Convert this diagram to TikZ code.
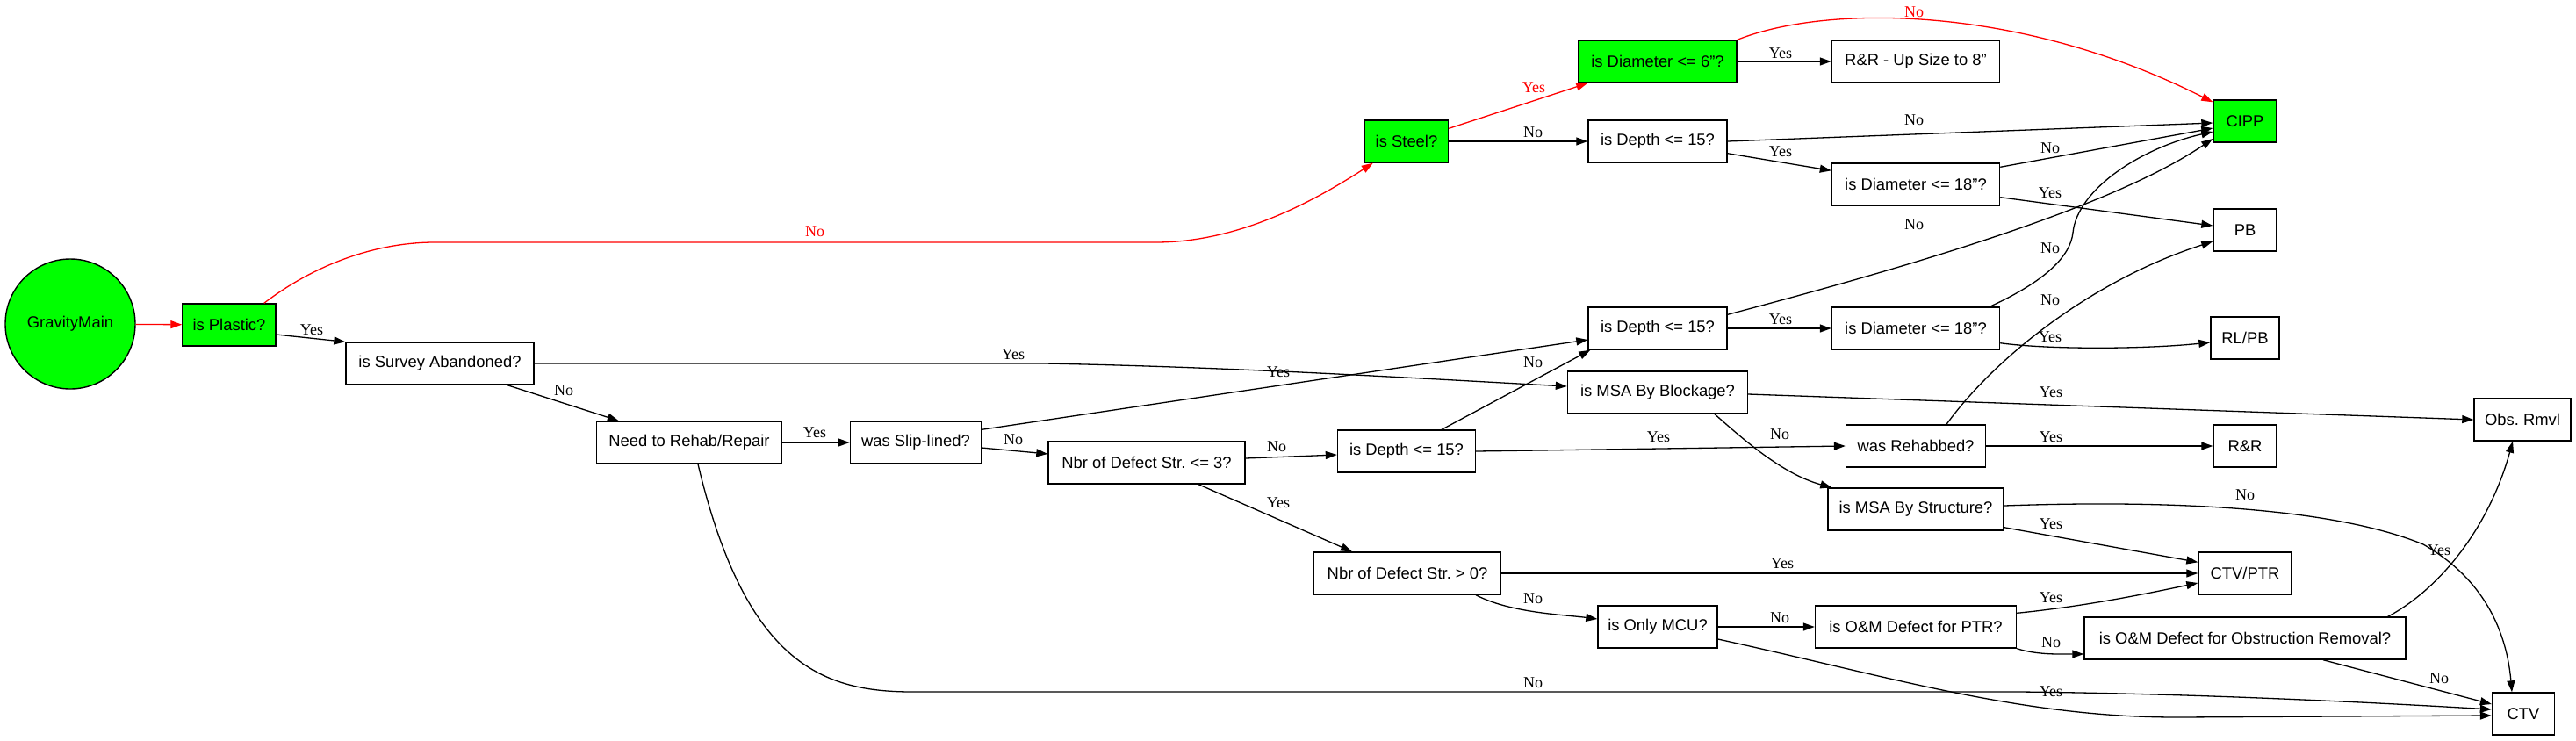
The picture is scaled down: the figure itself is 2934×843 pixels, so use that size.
\documentclass[tikz,border=0pt]{standalone}
\usepackage{fontspec}
\setmainfont{Liberation Serif}
\setsansfont{Liberation Sans}
\usepackage{tikz}
\usetikzlibrary{arrows.meta, positioning}
\definecolor{boxgreen}{RGB}{0,255,0}
\definecolor{flowred}{RGB}{255,0,0}
\frenchspacing

\begin{document}
\begin{tikzpicture}[
      x=0.5pt, y=-0.5pt,
      box/.style={rectangle, draw, line width=0.7pt, minimum height=24pt, inner sep=2pt, font=\sffamily\fontsize{9.2}{11}\selectfont},
      greenbox/.style={box, fill=boxgreen},
      arrow/.style={-{Triangle[length=6.5pt, width=4.5pt]}, line width=0.65pt},
      redarrow/.style={arrow, color=flowred},
      lbl/.style={font=\fontsize{9}{11}\selectfont, inner sep=0pt},
      redlbl/.style={lbl, text=flowred}
    ]
      \useasboundingbox (0,0) rectangle (2934,843);

      % Components
      \node[circle, draw, line width=0.7pt, fill=boxgreen, minimum size=74pt, font=\sffamily\fontsize{9.2}{11}\selectfont] (gm) at (80,369) {GravityMain};
      \node[greenbox, minimum width=53pt] (plastic) at (261,370) {is Plastic?};
      \node[box, minimum width=107pt] (survey) at (501,414) {is Survey Abandoned?};
      \node[box, minimum width=105.5pt] (rehab) at (785,504) {Need to Rehab/Repair};
      \node[box, minimum width=74.5pt] (slip) at (1043,504) {was Slip-lined?};
      \node[box, minimum width=112pt] (nbrthree) at (1306,527) {Nbr of Defect Str. <= 3?};
      \node[box, minimum width=78.5pt] (depthlow) at (1602,514) {is Depth <= 15?};
      \node[box, minimum width=106.5pt] (nbrzero) at (1603,653) {Nbr of Defect Str. > 0?};
      \node[box, minimum width=68pt] (mcu) at (1888,714) {is Only MCU?};
      \node[box, minimum width=114.5pt] (omptr) at (2182,714) {is O\&M Defect for PTR?};
      \node[box, minimum width=183pt] (omobs) at (2557,727) {is O\&M Defect for Obstruction Removal?};
      \node[box, minimum width=35.5pt] (ctv) at (2874,813) {CTV};
      \node[box, minimum width=53pt] (ctvptr) at (2557,653) {CTV/PTR};
      \node[box, minimum width=100pt] (structure) at (2182,580) {is MSA By Structure?};
      \node[box, minimum width=79.5pt] (rehabbed) at (2182,508) {was Rehabbed?};
      \node[box, minimum width=36pt] (rr) at (2557,508) {R\&R};
      \node[box, minimum width=102.5pt] (blockage) at (1888,447) {is MSA By Blockage?};
      \node[box, minimum width=55pt] (obs) at (2873,478) {Obs. Rmvl};

      % Steel branch
      \node[greenbox, minimum width=47.5pt] (steel) at (1602,161) {is Steel?};
      \node[greenbox, minimum width=90pt] (diasix) at (1888,70) {is Diameter <= 6"?};
      \node[box, minimum width=95.5pt] (upsize) at (2182,70) {R\&R - Up Size to 8"};
      \node[box, minimum width=79pt] (depthtop) at (1888,161) {is Depth <= 15?};
      \node[box, minimum width=95.5pt] (diatop) at (2182,210) {is Diameter <= 18"?};
      \node[greenbox, minimum width=36pt] (cipp) at (2557,138) {CIPP};
      \node[box, minimum width=36pt] (pb) at (2557,262) {PB};
      \node[box, minimum width=79pt] (depthmid) at (1888,374) {is Depth <= 15?};
      \node[box, minimum width=95.5pt] (diamid) at (2182,374) {is Diameter <= 18"?};
      \node[box, minimum width=39pt] (rlpb) at (2557,385) {RL/PB};

      % Arrows
      \draw[redarrow] (gm) -- (plastic);
      \draw[redarrow] ([xshift=-7pt]plastic.north east) .. controls (360,300) and (430,276) .. (495,276) -- (1316,276) .. controls (1400,276) and (1480,240) .. ([xshift=5pt]steel.south west) node[redlbl] at (928,264) {No};
      \draw[arrow] ([yshift=-5.5pt]plastic.east) -- (survey.north west) node[lbl] at (355,376) {Yes};

      \draw[redarrow] ([yshift=-5pt]steel.north east) -- ([xshift=5.5pt]diasix.south west) node[redlbl] at (1747,100) {Yes};
      \draw[arrow] (steel) -- (depthtop) node[lbl] at (1746,151) {No};
      \draw[arrow] (diasix) -- (upsize) node[lbl] at (2028,61) {Yes};
      \draw[redarrow] (diasix.north east) .. controls (2080,5) and (2300,5) .. ([yshift=-1.5pt]cipp.north west) node[redlbl] at (2180,14) {No};
      \draw[arrow] (depthtop.east) -- ([yshift=-1pt]cipp.west) node[lbl] at (2180,137) {No};
      \draw[arrow] ([yshift=5.5pt]depthtop.south east) -- ([yshift=-4.5pt]diatop.north west) node[lbl] at (2028,173) {Yes};
      \draw[arrow] ([yshift=-2.5pt]diatop.north east) -- ([yshift=-4pt]cipp.west) node[lbl] at (2335,169) {No};
      \draw[arrow] ([yshift=5pt]diatop.south east) -- ([yshift=2.5pt]pb.west) node[lbl] at (2335,220) {Yes};

      \draw[arrow] (survey.east) -- (1190,414) .. controls (1400,418) and (1600,430) .. ([yshift=3.5pt]blockage.west) node[lbl] at (1154,404) {Yes};
      \draw[arrow] ([xshift=38.5pt]survey.south) -- ([xshift=13pt]rehab.north west) node[lbl] at (642,445) {No};

      \draw[arrow] (rehab) -- (slip) node[lbl] at (928,493) {Yes};
      \draw[arrow] ([xshift=5pt]rehab.south) .. controls (850,760) and (940,788) .. (1040,788) -- (2300,788) .. controls (2500,790) and (2700,800) .. ([yshift=2.5pt]ctv.west) node[lbl] at (1746,778) {No};

      \draw[arrow] ([yshift=-5pt]slip.north east) -- ([yshift=-6.5pt]depthmid.west) node[lbl] at (1456,424) {Yes};
      \draw[arrow] ([yshift=-3pt]slip.east) -- ([yshift=5pt]nbrthree.west) node[lbl] at (1154,501) {No};

      \draw[arrow] ([yshift=2.5pt]nbrthree.east) -- ([yshift=-2pt]depthlow.west) node[lbl] at (1454,509) {No};
      \draw[arrow] ([xshift=29.5pt]nbrthree.south) -- ([xshift=-31.5pt]nbrzero.north) node[lbl] at (1456,573) {Yes};

      \draw[arrow] ([xshift=20pt]depthlow.north) -- ([xshift=1.5pt]depthmid.south west) node[lbl] at (1746,413) {No};
      \draw[arrow] (depthlow.east) -- (rehabbed.west) node[lbl] at (1889,498) {Yes};

      \draw[arrow] ([yshift=-4.5pt]depthmid.north east) .. controls (2150,310) and (2400,240) .. ([yshift=-10pt]cipp.west) node[lbl] at (2180,256) {No};
      \draw[arrow] (depthmid) -- (diamid) node[lbl] at (2028,364) {Yes};

      \draw[arrow] ([xshift=-6pt]diamid.north east) .. controls (2330,320) and (2358,292) .. (2361,265) .. controls (2366,215) and (2440,168) .. ([yshift=-6pt]cipp.west) node[lbl] at (2335,283) {No};
      \draw[arrow] ([yshift=4pt]diamid.south east) .. controls (2330,398) and (2440,398) .. ([yshift=-2.5pt]rlpb.west) node[lbl] at (2335,384) {Yes};

      \draw[arrow] ([xshift=17.5pt]rehabbed.north) .. controls (2270,410) and (2380,320) .. ([yshift=-6.5pt]pb.west) node[lbl] at (2335,342) {No};
      \draw[arrow] (rehabbed) -- (rr) node[lbl] at (2336,498) {Yes};

      \draw[arrow] ([yshift=-1pt]blockage.east) -- (obs.west) node[lbl] at (2336,447) {Yes};
      \draw[arrow] ([xshift=32.5pt]blockage.south) .. controls (1985,500) and (2030,540) .. ([xshift=2.5pt]structure.north west) node[lbl] at (2027,495) {No};

      \draw[arrow] ([yshift=2pt]structure.south east) -- ([yshift=-6pt]ctvptr.north west) node[lbl] at (2336,597) {Yes};
      \draw[arrow] ([yshift=2pt]structure.east) .. controls (2450,570) and (2650,575) .. (2760,620) .. controls (2830,660) and (2855,720) .. ([xshift=-6.5pt]ctv.north) node[lbl] at (2557,564) {No};

      \draw[arrow] (nbrzero) -- (ctvptr) node[lbl] at (2030,642) {Yes};
      \draw[arrow] ([xshift=39pt]nbrzero.south) .. controls (1720,698) and (1780,700) .. ([yshift=4.5pt]mcu.west) node[lbl] at (1746,682) {No};

      \draw[arrow] (mcu) -- (omptr) node[lbl] at (2027,704) {No};
      \draw[arrow] ([yshift=-7pt]mcu.east) .. controls (2150,770) and (2300,817) .. (2480,817) -- ([yshift=-1pt]ctv.west) node[lbl] at (2336,788) {Yes};

      \draw[arrow] ([yshift=-4.5pt]omptr.north east) .. controls (2380,690) and (2450,675) .. ([yshift=-5.5pt]ctvptr.west) node[lbl] at (2336,681) {Yes};
      \draw[arrow] (omptr.south east) .. controls (2320,746) and (2345,745) .. ([yshift=-9pt]omobs.west) node[lbl] at (2336,732) {No};

      \draw[arrow] ([xshift=-10.5pt]omobs.north east) .. controls (2780,670) and (2835,600) .. ([xshift=-5.5pt]obs.south) node[lbl] at (2778,627) {Yes};
      \draw[arrow] ([xshift=44.5pt]omobs.south) -- ([yshift=5.5pt]ctv.west) node[lbl] at (2778,773) {No};

    \end{tikzpicture}
\end{document}
